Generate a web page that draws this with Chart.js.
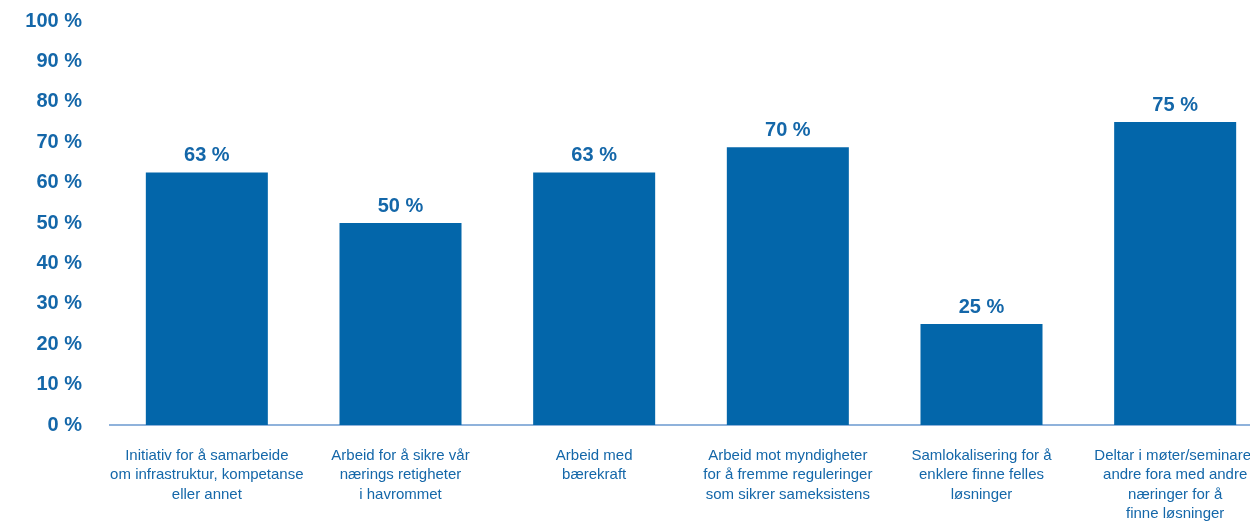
<!DOCTYPE html>
<html>
<head>
<meta charset="utf-8">
<script src="https://cdn.jsdelivr.net/npm/chart.js@4"></script>
<style>
    html, body { margin: 0; padding: 0; background: #fff; overflow: hidden; }
    #wrap { width: 1280px; height: 522px; position: relative; }
</style>
</head>
<body>
<div id="wrap"><canvas id="chart"></canvas></div>
<script>
// Categories (multi-line as in the reference)
var categories = [
    ['Initiativ for å samarbeide', 'om infrastruktur, kompetanse', 'eller annet'],
    ['Arbeid for å sikre vår', 'nærings retigheter', 'i havrommet'],
    ['Arbeid med', 'bærekraft'],
    ['Arbeid mot myndigheter', 'for å fremme reguleringer', 'som sikrer sameksistens'],
    ['Samlokalisering for å', 'enklere finne felles', 'løsninger'],
    ['Deltar i møter/seminarer', 'andre fora med andre', 'næringer for å', 'finne løsninger']
];

// Bar heights (percent)
var values = [62.5, 50, 62.5, 68.75, 25, 75];

// Value labels printed above the bars
var valueLabels = ['63 %', '50 %', '63 %', '70 %', '25 %', '75 %'];

var blue = '#0366aa';
var textBlue = '#1467a9';

// Draw the value labels above each bar
var valueLabelPlugin = {
    id: 'valueLabels',
    afterDatasetsDraw: function (chart) {
        var ctx = chart.ctx;
        var meta = chart.getDatasetMeta(0);
        ctx.save();
        ctx.fillStyle = textBlue;
        ctx.font = 'bold 20px "Liberation Sans", Arial, sans-serif';
        ctx.textAlign = 'center';
        ctx.textBaseline = 'middle';
        meta.data.forEach(function (bar, i) {
            ctx.fillText(valueLabels[i], bar.x, bar.y - 17);
        });
        ctx.restore();
    }
};

var ctx = document.getElementById('chart').getContext('2d');

var chart = new Chart(ctx, {
    type: 'bar',
    data: {
        labels: categories,
        datasets: [{
            data: values,
            backgroundColor: blue,
            borderWidth: 0,
            barPercentage: 1,
            categoryPercentage: 0.63
        }]
    },
    options: {
        responsive: true,
        maintainAspectRatio: false,
        animation: false,
        layout: { padding: { top: 21, right: 8, left: 0, bottom: 0 } },
        plugins: {
            legend: { display: false },
            tooltip: { enabled: false }
        },
        scales: {
            x: {
                grid: { display: false, drawTicks: false },
                border: { display: true, color: '#8fb2db', width: 2 },
                ticks: {
                    color: textBlue,
                    font: { family: '"Liberation Sans", Arial, sans-serif', size: 15, lineHeight: 1.3 },
                    padding: 21,
                    maxRotation: 0,
                    autoSkip: false
                },
                afterFit: function (scale) { scale.height = 97; scale.paddingTop = 0; }
            },
            y: {
                min: 0,
                max: 100,
                grid: { display: false, drawTicks: false },
                border: { display: false },
                ticks: {
                    stepSize: 10,
                    color: textBlue,
                    font: { family: '"Liberation Sans", Arial, sans-serif', size: 20, weight: 'bold' },
                    padding: 28,
                    callback: function (v) { return v + ' %'; }
                },
                afterFit: function (scale) { scale.width = 110; scale.paddingTop = 0; scale.paddingBottom = 0; }
            }
        }
    },
    plugins: [valueLabelPlugin]
});
</script>
</body>
</html>
